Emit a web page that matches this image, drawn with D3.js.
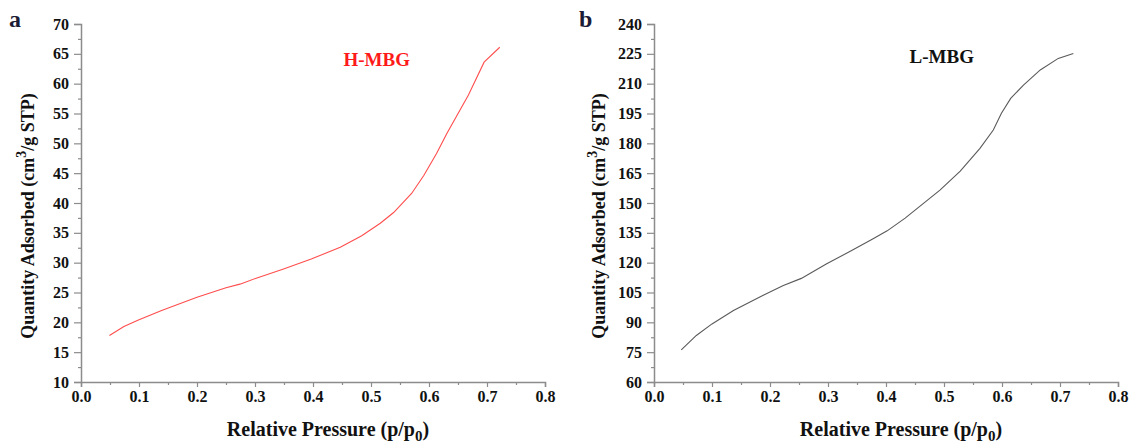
<!DOCTYPE html>
<html>
<head>
<meta charset="utf-8">
<script src="https://cdn.jsdelivr.net/npm/d3@7"></script>
<style>
  html, body { margin: 0; padding: 0; background: #fff; }
  svg { display: block; }
  text { font-family: "Liberation Serif", "Times New Roman", serif; font-weight: bold; }
</style>
</head>
<body>
<svg id="chart" width="1129" height="444"></svg>
<script>
// Relative pressure (p/p0) and adsorbed quantity for each sample
const hmbgPressure = [0.049, 0.074, 0.099, 0.139, 0.200, 0.250, 0.274, 0.302, 0.348, 0.397, 0.447, 0.484, 0.516, 0.539, 0.570, 0.591, 0.613, 0.631, 0.668, 0.695, 0.722];
const hmbgQuantity = [17.8, 19.3, 20.4, 22.0, 24.2, 25.8, 26.4, 27.4, 28.9, 30.6, 32.6, 34.5, 36.6, 38.4, 41.6, 44.6, 48.3, 51.7, 58.1, 63.6, 66.1];

const lmbgPressure = [0.047, 0.073, 0.100, 0.137, 0.174, 0.199, 0.223, 0.254, 0.297, 0.340, 0.377, 0.402, 0.433, 0.463, 0.493, 0.528, 0.562, 0.585, 0.599, 0.615, 0.637, 0.666, 0.697, 0.723];
const lmbgQuantity = [76.2, 83.4, 89.2, 95.9, 101.5, 105.1, 108.5, 112.1, 119.3, 126.0, 131.9, 136.0, 142.4, 149.4, 156.5, 166.0, 177.5, 186.7, 195.1, 202.6, 209.3, 216.9, 222.7, 225.2];

// Axis ticks
const xTicks = [0.0, 0.1, 0.2, 0.3, 0.4, 0.5, 0.6, 0.7, 0.8];
const hmbgYTicks = [10, 15, 20, 25, 30, 35, 40, 45, 50, 55, 60, 65, 70];
const lmbgYTicks = [60, 75, 90, 105, 120, 135, 150, 165, 180, 195, 210, 225, 240];

const panels = [
  { letter: "a", name: "H-MBG", color: "#ff4d4d", labelColor: "#ff1a1a",
    px: hmbgPressure, qy: hmbgQuantity, yTicks: hmbgYTicks,
    left: 81, labelX: 410, labelY: 66, letterX: 9, titleX: 27 },
  { letter: "b", name: "L-MBG", color: "#5a5a5a", labelColor: "#111",
    px: lmbgPressure, qy: lmbgQuantity, yTicks: lmbgYTicks,
    left: 654, labelX: 974, labelY: 63, letterX: 579, titleX: 598 }
];

const svg = d3.select("#chart");
const plotTop = 24, plotBottom = 382, plotWidth = 464;
const axisColor = "#8c8c8c";

panels.forEach(p => {
  const g = svg.append("g");
  const x = d3.scaleLinear().domain([0, 0.8]).range([p.left, p.left + plotWidth]);
  const yMin = p.yTicks[0], yMax = p.yTicks[p.yTicks.length - 1];
  const y = d3.scaleLinear().domain([yMin, yMax]).range([plotBottom, plotTop]);

  // minor ticks halfway between labelled ticks
  const xMinor = d3.range(0.05, 0.8, 0.1);
  const step = p.yTicks[1] - p.yTicks[0];
  const yMinor = p.yTicks.slice(0, -1).map(v => v + step / 2);

  const gx = g.append("g").attr("transform", `translate(0,${plotBottom})`)
    .call(d3.axisBottom(x).tickValues(xTicks).tickFormat(d3.format(".1f")).tickSize(5).tickPadding(4));
  g.append("g").attr("transform", `translate(0,${plotBottom})`)
    .call(d3.axisBottom(x).tickValues(xMinor).tickFormat("").tickSize(3))
    .select(".domain").remove();

  const gy = g.append("g").attr("transform", `translate(${p.left},0)`)
    .call(d3.axisLeft(y).tickValues(p.yTicks).tickFormat(d3.format("d")).tickSize(7).tickPadding(5));
  g.append("g").attr("transform", `translate(${p.left},0)`)
    .call(d3.axisLeft(y).tickValues(yMinor).tickFormat("").tickSize(3))
    .select(".domain").remove();

  g.selectAll(".domain").attr("stroke", axisColor).attr("stroke-width", 1.5);
  g.selectAll(".tick line").attr("stroke", axisColor).attr("stroke-width", 1.2);
  g.selectAll(".tick text")
    .attr("fill", "#111")
    .style("font-family", "'Liberation Serif', serif")
    .style("font-weight", "bold")
    .style("font-size", "16px");
  gx.selectAll(".tick text").attr("dy", "0.71em");

  // isotherm
  const pts = p.px.map((v, i) => [v, p.qy[i]]);
  g.append("path")
    .datum(pts)
    .attr("fill", "none")
    .attr("stroke", p.color)
    .attr("stroke-width", 1.1)
    .attr("d", d3.line().x(d => x(d[0])).y(d => y(d[1])));

  // sample label
  g.append("text")
    .attr("x", p.labelX).attr("y", p.labelY)
    .attr("text-anchor", "end")
    .attr("fill", p.labelColor)
    .style("font-size", "19px")
    .text(p.name);

  // panel letter
  g.append("text")
    .attr("x", p.letterX).attr("y", 27)
    .attr("fill", "#1c1c36")
    .style("font-size", "24px")
    .text(p.letter);

  // x-axis title
  const xt = g.append("text")
    .attr("x", p.left + plotWidth / 2 + 15).attr("y", 436)
    .attr("text-anchor", "middle")
    .attr("fill", "#111")
    .style("font-size", "20px");
  xt.append("tspan").text("Relative Pressure (p/p");
  xt.append("tspan").attr("dy", 5).style("font-size", "15px").text("0");
  xt.append("tspan").attr("dy", -5).text(")");

  // y-axis title
  const yt = g.append("text")
    .attr("transform", `translate(${p.titleX + 7},216) rotate(-90)`)
    .attr("text-anchor", "middle")
    .attr("fill", "#111")
    .style("font-size", "18px");
  yt.append("tspan").text("Quantity Adsorbed (cm");
  yt.append("tspan").attr("dy", -8).style("font-size", "14px").text("3");
  yt.append("tspan").attr("dy", 8).text("/g STP)");
});
</script>
</body>
</html>
